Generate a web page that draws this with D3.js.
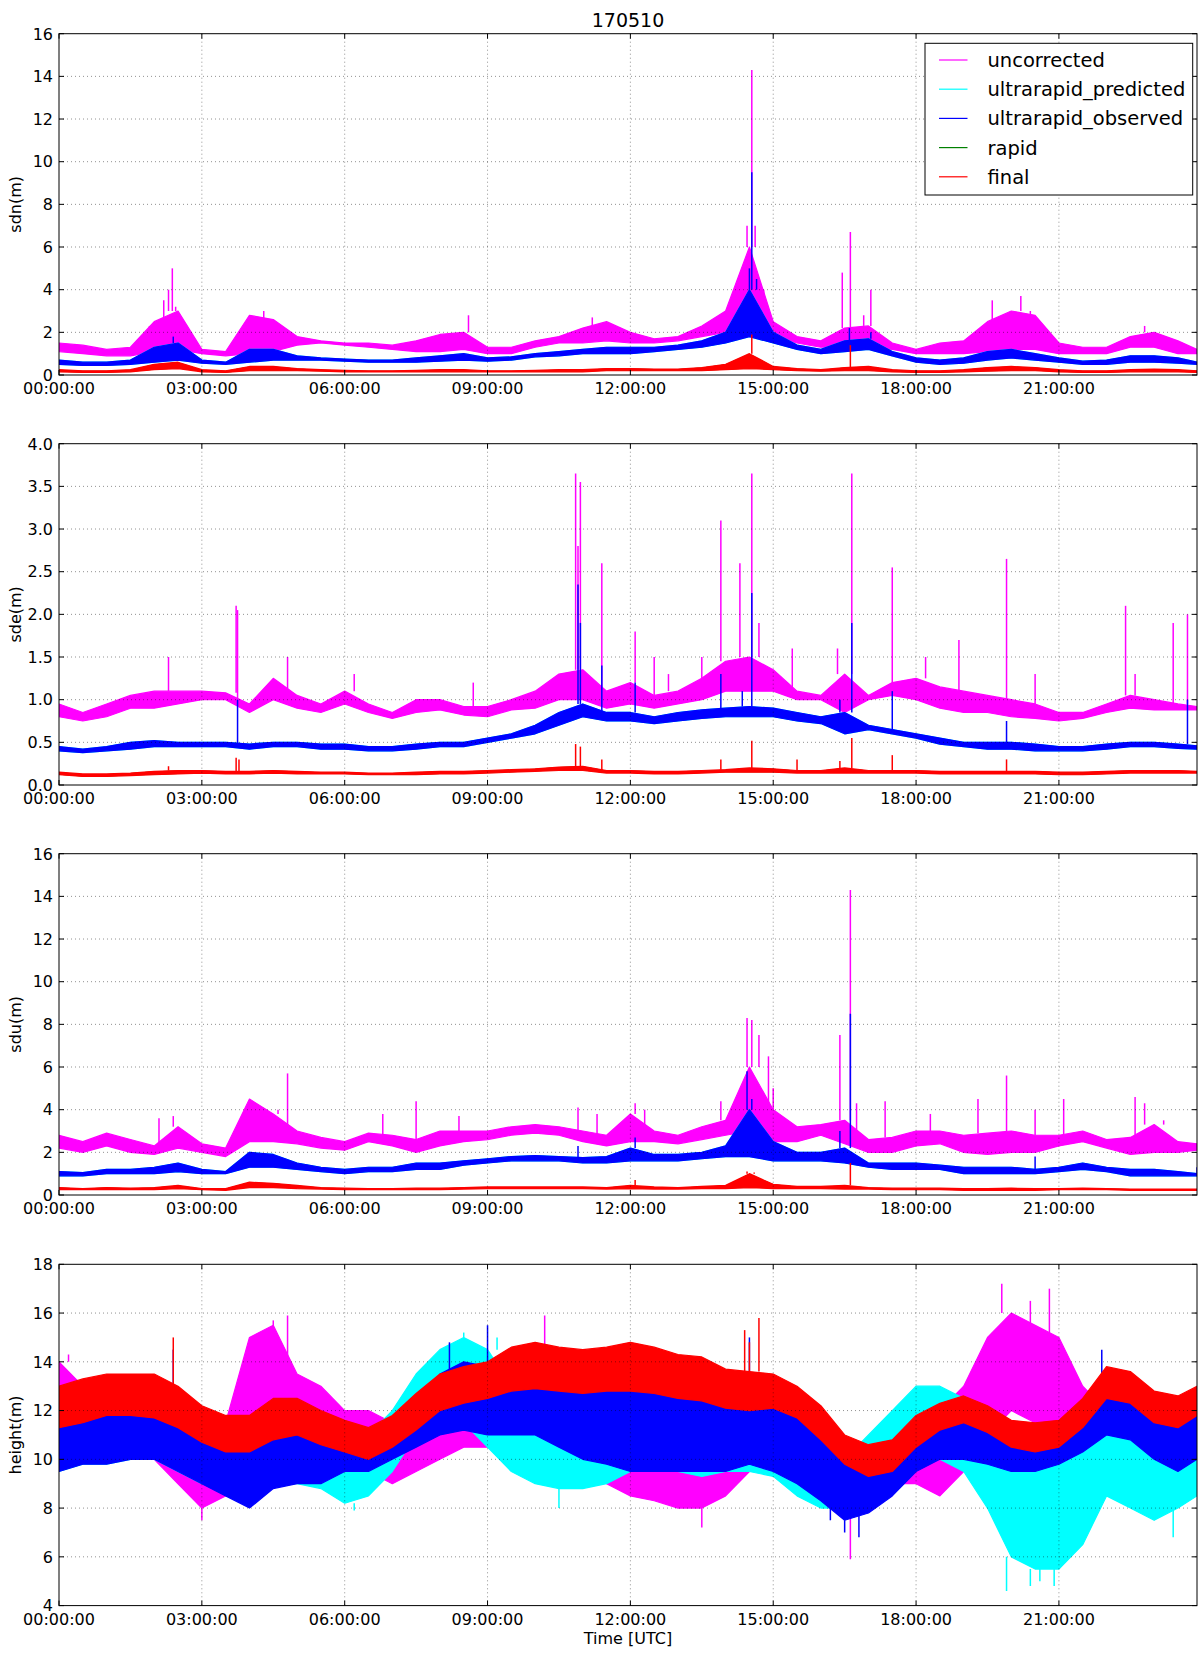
<!DOCTYPE html>
<html><head><meta charset="utf-8">
<script src="https://cdn.jsdelivr.net/npm/d3@7"></script>
<style>body{margin:0;background:#fff}svg{display:block}text{font-family:"DejaVu Sans",sans-serif;fill:#000}</style>
</head><body><svg id="c" width="1203" height="1653"></svg>
<script>
// ---- DATA (hours UTC; lo/hi = envelope of the dense trace) ----
const hours = [0,0.5,1,1.5,2,2.5,3,3.5,4,4.5,5,5.5,6,6.5,7,7.5,8,8.5,9,9.5,10,10.5,11,11.5,12,12.5,13,13.5,14,14.5,15,15.5,16,16.5,17,17.5,18,18.5,19,19.5,20,20.5,21,21.5,22,22.5,23,23.5,23.9];
const xTickHours = [0,3,6,9,12,15,18,21];
const seriesNames = ["uncorrected","ultrarapid_predicted","ultrarapid_observed","rapid","final"];
const seriesColors = ["#ff00ff","#00ffff","#0000ff","#008000","#ff0000"];
const panelLabels = ["sdn(m)","sde(m)","sdu(m)","height(m)"];
const titleText = "170510";
const xLabelText = "Time [UTC]";

// sdn
const sdnUncLo=[1.1,1.0,0.9,0.9,1.1,1.2,1.0,0.9,1.0,1.1,1.4,1.5,1.4,1.3,1.2,1.1,1.1,1.2,1.0,1.0,1.3,1.5,1.5,1.6,1.5,1.5,1.6,1.8,2.0,2.5,1.8,1.5,1.3,1.3,1.3,1.2,1.0,1.0,1.0,1.1,1.2,1.2,1.0,1.0,1.0,1.3,1.3,1.0,1.0];
const sdnUncHi=[1.5,1.4,1.2,1.3,2.5,3.0,1.2,1.1,2.8,2.6,1.8,1.6,1.5,1.5,1.4,1.6,1.9,2.0,1.3,1.3,1.6,1.8,2.2,2.5,2.0,1.7,1.8,2.3,3.0,6.0,2.5,1.8,1.6,2.2,2.3,1.5,1.2,1.5,1.6,2.5,3.0,2.8,1.5,1.3,1.3,1.8,2.0,1.6,1.2];
const sdnUncSpikes=[[1.9,2.3],[2.2,3.5],[2.3,4.0],[2.38,5.0],[2.45,3.2],[4.3,3.0],[8.6,2.8],[11.2,2.7],[13.8,3.0],[14.35,4.5],[14.45,7.0],[14.55,14.3],[14.62,7.0],[14.7,6.0],[14.8,4.0],[16.45,4.8],[16.62,6.7],[16.9,2.8],[17.05,4.0],[19.6,3.5],[20.2,3.7],[20.4,3.0],[22.8,2.3]];
const sdnUrpLo=[0.5,0.45,0.45,0.5,0.6,0.7,0.55,0.5,0.6,0.7,0.7,0.7,0.65,0.6,0.6,0.6,0.65,0.7,0.65,0.7,0.85,0.9,1.0,1.0,1.0,1.1,1.2,1.3,1.5,1.8,1.5,1.2,1.0,1.1,1.2,0.9,0.6,0.5,0.55,0.7,0.8,0.7,0.6,0.5,0.5,0.6,0.6,0.55,0.5];
const sdnUrpHi=[0.7,0.6,0.6,0.7,1.3,1.5,0.7,0.6,1.2,1.2,0.9,0.8,0.75,0.7,0.7,0.8,0.9,1.0,0.8,0.85,1.0,1.1,1.2,1.3,1.3,1.3,1.4,1.6,2.0,4.0,2.0,1.4,1.2,1.6,1.7,1.1,0.8,0.7,0.8,1.1,1.2,1.0,0.8,0.65,0.7,0.9,0.9,0.8,0.6];
const sdnUroLo=[0.5,0.45,0.45,0.5,0.6,0.7,0.55,0.5,0.6,0.7,0.7,0.7,0.65,0.6,0.6,0.6,0.65,0.7,0.65,0.7,0.85,0.9,1.0,1.0,1.0,1.1,1.2,1.3,1.5,1.8,1.5,1.2,1.0,1.1,1.2,0.9,0.6,0.5,0.55,0.7,0.8,0.7,0.6,0.5,0.5,0.6,0.6,0.55,0.5];
const sdnUroHi=[0.7,0.6,0.6,0.7,1.3,1.5,0.7,0.6,1.2,1.2,0.9,0.8,0.75,0.7,0.7,0.8,0.9,1.0,0.8,0.85,1.0,1.1,1.2,1.3,1.3,1.3,1.4,1.6,2.0,4.0,2.0,1.4,1.2,1.6,1.7,1.1,0.8,0.7,0.8,1.1,1.2,1.0,0.8,0.65,0.7,0.9,0.9,0.8,0.6];
const sdnUroSpikes=[[2.4,1.8],[14.4,3.5],[14.5,5.0],[14.55,9.5],[14.65,4.5],[16.6,2.2],[17.05,2.0]];
const sdnFinLo=[0.15,0.12,0.12,0.15,0.25,0.3,0.15,0.12,0.2,0.2,0.2,0.18,0.15,0.15,0.15,0.15,0.15,0.15,0.15,0.15,0.15,0.15,0.15,0.2,0.2,0.2,0.2,0.2,0.25,0.3,0.25,0.2,0.18,0.2,0.2,0.15,0.12,0.12,0.15,0.18,0.2,0.2,0.15,0.12,0.12,0.15,0.15,0.15,0.12];
const sdnFinHi=[0.25,0.2,0.2,0.25,0.5,0.6,0.25,0.2,0.4,0.4,0.3,0.25,0.22,0.2,0.2,0.22,0.25,0.25,0.2,0.2,0.22,0.25,0.25,0.3,0.3,0.28,0.28,0.35,0.5,1.0,0.4,0.3,0.25,0.35,0.4,0.25,0.2,0.2,0.25,0.35,0.4,0.35,0.25,0.2,0.2,0.25,0.28,0.25,0.2];
const sdnFinSpikes=[[14.45,1.0],[14.55,1.9],[16.62,1.4]];

// sde
const sdeUncLo=[0.8,0.75,0.8,0.9,0.9,0.95,1.0,1.0,0.85,1.0,0.9,0.85,0.95,0.85,0.78,0.85,0.88,0.82,0.8,0.88,0.9,1.0,1.0,0.9,0.95,0.9,0.95,1.0,1.1,1.1,1.1,1.0,1.0,0.85,1.0,1.05,1.0,0.9,0.85,0.85,0.8,0.78,0.75,0.78,0.85,0.9,0.88,0.88,0.88];
const sdeUncHi=[0.95,0.85,0.95,1.05,1.1,1.1,1.1,1.08,0.95,1.25,1.05,0.95,1.1,0.95,0.85,1.0,1.0,0.92,0.92,1.0,1.1,1.3,1.35,1.1,1.2,1.05,1.1,1.25,1.45,1.5,1.35,1.1,1.05,1.3,1.05,1.2,1.25,1.15,1.1,1.05,1.0,0.95,0.85,0.85,0.95,1.05,1.0,0.95,0.92];
const sdeUncSpikes=[[2.3,1.5],[3.72,2.1],[3.75,2.05],[4.8,1.5],[6.2,1.3],[8.7,1.2],[10.85,3.65],[10.9,2.8],[10.95,3.55],[11.4,2.6],[12.1,1.8],[12.5,1.5],[12.8,1.3],[13.5,1.5],[13.9,3.1],[14.3,2.6],[14.55,3.65],[14.7,1.9],[15.4,1.6],[16.35,1.6],[16.65,3.65],[17.5,2.55],[18.2,1.5],[18.9,1.7],[19.9,2.65],[20.5,1.3],[22.4,2.1],[22.6,1.3],[23.4,1.9],[23.7,2.0]];
const sdeUrpLo=[0.4,0.38,0.4,0.42,0.45,0.45,0.45,0.45,0.42,0.45,0.45,0.42,0.42,0.4,0.4,0.42,0.45,0.45,0.5,0.55,0.6,0.7,0.8,0.75,0.75,0.72,0.75,0.78,0.8,0.8,0.8,0.75,0.72,0.6,0.65,0.6,0.55,0.48,0.45,0.42,0.42,0.4,0.4,0.4,0.42,0.45,0.45,0.43,0.42];
const sdeUrpHi=[0.45,0.42,0.45,0.5,0.52,0.5,0.5,0.5,0.48,0.5,0.5,0.48,0.48,0.45,0.45,0.48,0.5,0.5,0.55,0.6,0.7,0.85,0.95,0.85,0.85,0.8,0.85,0.88,0.9,0.92,0.9,0.85,0.8,0.85,0.7,0.65,0.6,0.55,0.5,0.5,0.5,0.48,0.45,0.45,0.48,0.5,0.5,0.48,0.46];
const sdeUroLo=[0.4,0.38,0.4,0.42,0.45,0.45,0.45,0.45,0.42,0.45,0.45,0.42,0.42,0.4,0.4,0.42,0.45,0.45,0.5,0.55,0.6,0.7,0.8,0.75,0.75,0.72,0.75,0.78,0.8,0.8,0.8,0.75,0.72,0.6,0.65,0.6,0.55,0.48,0.45,0.42,0.42,0.4,0.4,0.4,0.42,0.45,0.45,0.43,0.42];
const sdeUroHi=[0.45,0.42,0.45,0.5,0.52,0.5,0.5,0.5,0.48,0.5,0.5,0.48,0.48,0.45,0.45,0.48,0.5,0.5,0.55,0.6,0.7,0.85,0.95,0.85,0.85,0.8,0.85,0.88,0.9,0.92,0.9,0.85,0.8,0.85,0.7,0.65,0.6,0.55,0.5,0.5,0.5,0.48,0.45,0.45,0.48,0.5,0.5,0.48,0.46];
const sdeUroSpikes=[[3.75,1.0],[10.9,2.35],[10.95,1.9],[11.4,1.4],[12.1,1.2],[13.9,1.3],[14.35,1.1],[14.55,2.25],[16.4,1.0],[16.65,1.9],[17.5,1.1],[19.9,0.75],[23.7,1.0]];
const sdeFinLo=[0.12,0.1,0.1,0.11,0.12,0.13,0.14,0.13,0.13,0.14,0.13,0.13,0.13,0.12,0.12,0.12,0.13,0.13,0.14,0.15,0.16,0.17,0.17,0.14,0.14,0.13,0.13,0.14,0.15,0.15,0.15,0.14,0.14,0.14,0.14,0.14,0.14,0.13,0.13,0.13,0.13,0.13,0.12,0.12,0.13,0.14,0.14,0.14,0.14];
const sdeFinHi=[0.15,0.13,0.13,0.14,0.16,0.17,0.17,0.16,0.16,0.17,0.16,0.15,0.15,0.14,0.14,0.15,0.16,0.16,0.17,0.18,0.19,0.21,0.22,0.17,0.17,0.16,0.16,0.17,0.18,0.2,0.19,0.17,0.17,0.2,0.17,0.17,0.17,0.16,0.16,0.16,0.16,0.16,0.15,0.15,0.16,0.17,0.17,0.17,0.16];
const sdeFinSpikes=[[2.3,0.22],[3.72,0.32],[3.78,0.3],[10.85,0.48],[10.95,0.45],[11.4,0.3],[13.9,0.3],[14.55,0.52],[15.5,0.3],[16.4,0.28],[16.65,0.55],[17.5,0.35],[19.9,0.3]];

// sdu
const sduUncLo=[2.2,2.0,2.3,2.0,1.9,2.2,2.0,1.8,2.5,2.5,2.4,2.2,2.1,2.5,2.3,2.0,2.3,2.5,2.6,2.8,2.9,2.8,2.5,2.3,2.5,2.5,2.4,2.6,2.8,3.0,2.5,2.5,2.8,2.4,2.0,2.0,2.3,2.4,2.0,1.9,2.0,2.0,2.3,2.5,2.2,1.9,2.0,2.0,2.1];
const sduUncHi=[2.8,2.5,2.9,2.6,2.3,3.2,2.4,2.2,4.5,3.8,3.0,2.7,2.5,2.9,2.8,2.6,3.0,3.0,3.0,3.2,3.3,3.2,3.0,2.8,3.8,3.0,2.8,3.2,3.5,6.0,4.0,3.2,3.3,3.5,2.6,2.7,3.0,3.0,2.8,2.9,3.0,2.8,2.8,3.0,2.6,2.7,3.3,2.5,2.4];
const sduUncSpikes=[[2.1,3.6],[2.4,3.7],[4.6,4.0],[4.8,5.7],[6.8,3.8],[7.5,4.4],[8.4,3.7],[10.9,4.1],[11.3,3.8],[12.1,4.3],[12.3,4.0],[13.9,4.4],[14.45,8.3],[14.55,8.2],[14.7,7.5],[14.9,6.5],[15.0,5.0],[16.4,7.5],[16.62,14.3],[16.75,4.3],[17.35,4.4],[18.3,3.8],[19.3,4.5],[19.9,5.6],[20.5,4.0],[21.1,4.5],[22.6,4.6],[22.8,4.3],[23.2,3.5]];
const sduUrpLo=[0.9,0.9,1.0,1.0,1.0,1.1,1.0,1.0,1.3,1.3,1.2,1.1,1.0,1.1,1.1,1.2,1.2,1.4,1.5,1.6,1.6,1.6,1.5,1.5,1.6,1.6,1.6,1.7,1.8,1.8,1.6,1.6,1.6,1.5,1.3,1.2,1.2,1.2,1.0,1.0,1.0,1.0,1.1,1.2,1.1,0.9,0.9,0.9,0.9];
const sduUrpHi=[1.1,1.05,1.2,1.2,1.3,1.5,1.2,1.1,2.0,1.9,1.5,1.3,1.2,1.3,1.3,1.5,1.5,1.6,1.7,1.8,1.85,1.8,1.75,1.8,2.2,1.9,1.9,2.0,2.3,4.0,2.5,2.0,2.0,2.2,1.5,1.5,1.5,1.4,1.3,1.3,1.3,1.2,1.3,1.5,1.3,1.2,1.2,1.1,1.0];
const sduUroLo=[0.9,0.9,1.0,1.0,1.0,1.1,1.0,1.0,1.3,1.3,1.2,1.1,1.0,1.1,1.1,1.2,1.2,1.4,1.5,1.6,1.6,1.6,1.5,1.5,1.6,1.6,1.6,1.7,1.8,1.8,1.6,1.6,1.6,1.5,1.3,1.2,1.2,1.2,1.0,1.0,1.0,1.0,1.1,1.2,1.1,0.9,0.9,0.9,0.9];
const sduUroHi=[1.1,1.05,1.2,1.2,1.3,1.5,1.2,1.1,2.0,1.9,1.5,1.3,1.2,1.3,1.3,1.5,1.5,1.6,1.7,1.8,1.85,1.8,1.75,1.8,2.2,1.9,1.9,2.0,2.3,4.0,2.5,2.0,2.0,2.2,1.5,1.5,1.5,1.4,1.3,1.3,1.3,1.2,1.3,1.5,1.3,1.2,1.2,1.1,1.0];
const sduUroSpikes=[[10.9,2.3],[12.1,2.7],[14.45,5.8],[14.55,4.5],[14.65,4.0],[16.4,3.0],[16.62,8.5],[20.5,1.8],[23.9,1.3]];
const sduFinLo=[0.25,0.25,0.25,0.25,0.25,0.3,0.25,0.22,0.35,0.35,0.3,0.28,0.25,0.25,0.25,0.25,0.25,0.28,0.3,0.3,0.3,0.3,0.3,0.28,0.3,0.28,0.28,0.3,0.3,0.35,0.3,0.3,0.3,0.28,0.28,0.25,0.25,0.25,0.22,0.22,0.22,0.22,0.25,0.25,0.25,0.22,0.22,0.22,0.22];
const sduFinHi=[0.35,0.3,0.35,0.32,0.35,0.45,0.3,0.3,0.6,0.55,0.45,0.35,0.32,0.3,0.3,0.32,0.32,0.35,0.38,0.38,0.38,0.38,0.38,0.35,0.45,0.38,0.35,0.4,0.45,1.0,0.5,0.4,0.4,0.45,0.35,0.32,0.32,0.32,0.3,0.3,0.32,0.3,0.3,0.32,0.3,0.28,0.28,0.28,0.28];
const sduFinSpikes=[[12.1,0.7],[14.45,1.1],[14.6,1.05],[16.62,1.5]];

// height
const hgtUncLo=[10.0,10.5,10.5,10.5,10.0,9.0,8.0,8.5,10.5,11.0,10.5,10.5,10.0,9.5,9.0,9.5,10.0,10.5,10.5,11.0,10.5,10.0,9.5,9.0,8.5,8.3,8.0,8.0,8.5,9.5,9.5,9.0,8.5,8.0,8.5,9.0,9.0,8.5,9.5,11.0,12.0,11.5,11.0,10.0,9.5,9.5,9.0,9.0,9.0];
const hgtUncHi=[14.0,13.0,13.0,13.0,13.0,12.0,11.0,11.5,15.0,15.5,13.5,13.0,12.0,12.0,11.5,11.5,12.5,13.0,13.5,14.0,14.5,13.5,12.5,12.0,11.5,11.0,11.0,10.5,11.0,12.0,12.0,11.5,10.5,9.5,10.0,10.5,11.5,12.0,13.0,15.0,16.0,15.5,15.0,13.0,12.0,11.0,10.5,11.0,11.5];
const hgtUncSpikes=[[0.2,14.3],[3.0,7.5],[4.5,15.7],[4.8,15.9],[10.2,15.9],[13.5,7.2],[16.62,5.9],[19.8,17.2],[20.4,16.5],[20.8,17.0]];
const hgtUrpLo=[9.5,9.8,9.8,10.0,10.0,9.5,9.0,8.8,8.5,9.0,9.0,8.8,8.2,8.5,9.5,11.0,11.5,11.5,10.5,9.5,9.0,8.8,8.8,9.0,9.5,9.5,9.5,9.3,9.5,9.5,9.3,8.5,8.0,8.0,8.5,9.0,10.0,10.0,9.5,8.0,6.0,5.5,5.5,6.5,8.5,8.0,7.5,8.0,8.5];
const hgtUrpHi=[11.5,11.8,11.8,12.0,12.0,11.5,11.0,10.8,10.5,11.0,11.0,10.8,10.5,11.0,12.0,13.5,14.5,15.0,14.5,13.0,12.5,12.0,12.0,12.0,12.0,12.0,12.0,12.0,12.0,12.0,12.0,11.0,10.5,10.0,11.0,12.0,13.0,13.0,12.5,11.5,10.5,10.0,9.8,10.5,12.0,11.5,10.5,10.5,11.0];
const hgtUrpSpikes=[[6.2,7.9],[8.5,15.2],[9.2,15.0],[10.5,8.0],[19.9,4.6],[20.4,4.8],[20.6,5.0],[20.9,4.8],[23.4,6.8]];
const hgtUroLo=[9.5,9.8,9.8,10.0,10.0,9.5,9.0,8.5,8.0,8.8,9.0,9.0,9.5,9.5,10.0,10.5,11.0,11.2,11.0,11.0,11.0,10.5,10.0,9.8,9.5,9.5,9.5,9.5,9.5,9.8,9.5,9.0,8.3,7.5,7.8,8.5,9.5,10.0,10.0,9.8,9.5,9.5,9.8,10.3,11.0,10.8,10.0,9.5,10.0];
const hgtUroHi=[11.8,12.0,12.2,12.3,12.2,11.8,11.2,10.8,10.8,11.3,11.5,11.2,11.0,10.8,11.3,12.2,13.5,14.0,13.8,13.5,13.3,13.0,12.8,12.8,12.9,12.8,12.6,12.5,12.3,12.3,12.2,11.8,11.0,10.0,9.8,10.5,11.5,12.0,12.3,12.0,11.5,11.3,11.5,12.0,13.0,12.8,12.0,11.8,12.0];
const hgtUroSpikes=[[2.4,14.5],[4.1,8.0],[8.2,14.8],[9.0,15.5],[14.5,15.0],[16.2,7.5],[16.5,7.0],[16.8,6.8],[21.9,14.5]];
const hgtRapLo=[11.6,11.8,12.1,12.1,12.0,11.6,11.0,10.6,10.6,11.1,11.3,10.9,10.6,10.3,10.8,11.5,12.3,12.6,12.8,13.1,13.2,13.1,13.0,13.1,13.1,13.0,12.8,12.7,12.4,12.3,12.4,12.0,11.1,10.1,9.6,9.8,10.8,11.5,11.8,11.4,10.8,10.6,10.8,11.6,12.8,12.6,11.8,11.6,12.1];
const hgtRapHi=[12.7,13.0,13.2,13.2,13.2,12.7,11.9,11.5,11.5,12.2,12.2,11.7,11.3,11.0,11.5,12.4,13.2,13.5,13.7,14.3,14.5,14.3,14.2,14.3,14.5,14.3,14.0,13.9,13.4,13.3,13.2,12.7,11.9,10.7,10.3,10.5,11.5,12.0,12.3,11.9,11.3,11.2,11.3,12.2,13.5,13.3,12.5,12.3,12.7];
const hgtFinLo=[11.3,11.5,11.8,11.8,11.7,11.3,10.7,10.3,10.3,10.8,11.0,10.6,10.3,10.0,10.5,11.2,12.0,12.3,12.5,12.8,12.9,12.8,12.7,12.8,12.8,12.7,12.5,12.4,12.1,12.0,12.1,11.7,10.8,9.8,9.3,9.5,10.5,11.2,11.5,11.1,10.5,10.3,10.5,11.3,12.5,12.3,11.5,11.3,11.8];
const hgtFinHi=[13.0,13.3,13.5,13.5,13.5,13.0,12.2,11.8,11.8,12.5,12.5,12.0,11.6,11.3,11.8,12.7,13.5,13.8,14.0,14.6,14.8,14.6,14.5,14.6,14.8,14.6,14.3,14.2,13.7,13.6,13.5,13.0,12.2,11.0,10.6,10.8,11.8,12.3,12.6,12.2,11.6,11.5,11.6,12.5,13.8,13.6,12.8,12.6,13.0];
const hgtFinSpikes=[[2.4,15.0],[14.4,15.3],[14.5,14.8],[14.7,15.8]];

// ---- LAYOUT ----
const svg = d3.select("#c");
const L = 59, R = 1197, PH = 341.3;
const panelTops = [33.7, 443.7, 853.7, 1264.3];
const x = d3.scaleLinear().domain([0, 23.9]).range([L, R]);
const hhmmss = h => String(h).padStart(2,"0") + ":00:00";

const panels = [
  {label: panelLabels[0], domain:[0,16], ticks:d3.range(0,17,2), fmt:d3.format("d"),
   series:[[sdnUncLo,sdnUncHi,sdnUncSpikes],[sdnUrpLo,sdnUrpHi,[]],[sdnUroLo,sdnUroHi,sdnUroSpikes],[sdnFinLo,sdnFinHi,[]],[sdnFinLo,sdnFinHi,sdnFinSpikes]]},
  {label: panelLabels[1], domain:[0,4], ticks:d3.range(0,4.01,0.5), fmt:d3.format(".1f"),
   series:[[sdeUncLo,sdeUncHi,sdeUncSpikes],[sdeUrpLo,sdeUrpHi,[]],[sdeUroLo,sdeUroHi,sdeUroSpikes],[sdeFinLo,sdeFinHi,[]],[sdeFinLo,sdeFinHi,sdeFinSpikes]]},
  {label: panelLabels[2], domain:[0,16], ticks:d3.range(0,17,2), fmt:d3.format("d"),
   series:[[sduUncLo,sduUncHi,sduUncSpikes],[sduUrpLo,sduUrpHi,[]],[sduUroLo,sduUroHi,sduUroSpikes],[sduFinLo,sduFinHi,[]],[sduFinLo,sduFinHi,sduFinSpikes]]},
  {label: panelLabels[3], domain:[4,18], ticks:d3.range(4,19,2), fmt:d3.format("d"),
   series:[[hgtUncLo,hgtUncHi,hgtUncSpikes],[hgtUrpLo,hgtUrpHi,hgtUrpSpikes],[hgtUroLo,hgtUroHi,hgtUroSpikes],[hgtRapLo,hgtRapHi,[]],[hgtFinLo,hgtFinHi,hgtFinSpikes]]}
];

svg.append("text").attr("x", (L+R)/2).attr("y", 26.5).attr("text-anchor","middle")
   .style("font-size","19px").text(titleText);

panels.forEach((p, pi) => {
  const top = panelTops[pi], bot = top + PH;
  const y = d3.scaleLinear().domain(p.domain).range([bot, top]);
  const g = svg.append("g");
  const cid = "clip" + pi;
  g.append("clipPath").attr("id", cid).append("rect")
    .attr("x", L).attr("y", top).attr("width", R-L).attr("height", PH);
  const dg = g.append("g").attr("clip-path", `url(#${cid})`);

  p.series.forEach(([lo, hi, spikes], si) => {
    const col = seriesColors[si];
    const data = hours.map((t,i) => ({t, lo: lo[i], hi: hi[i]}));
    dg.append("path").datum(data)
      .attr("d", d3.area().x(d => x(d.t)).y0(d => y(d.lo)).y1(d => y(d.hi)))
      .attr("fill", col).attr("stroke", col).attr("stroke-width", si === 3 ? 0 : 1.2).attr("stroke-linejoin","round");
    spikes.forEach(([t, v]) => {
      const i = Math.min(hours.length-1, Math.round(t*2));
      const base = v >= hi[i] ? hi[i] : lo[i];
      dg.append("line").attr("x1", x(t)).attr("x2", x(t))
        .attr("y1", y(base)).attr("y2", y(v))
        .attr("stroke", col).attr("stroke-width", 1.5);
    });
  });

  // grid (drawn above lines, classic style)
  const gg = g.append("g").attr("stroke", "#000").attr("stroke-opacity", 0.55)
    .attr("stroke-width", 0.8).attr("stroke-dasharray", "1,3");
  xTickHours.forEach(h => { if (h > 0) gg.append("line").attr("x1", x(h)).attr("x2", x(h)).attr("y1", top).attr("y2", bot); });
  p.ticks.forEach(v => { const yy = y(v); if (yy > top+0.5 && yy < bot-0.5) gg.append("line").attr("x1", L).attr("x2", R).attr("y1", yy).attr("y2", yy); });

  // ticks inward on all sides
  const tk = g.append("g").attr("stroke", "#000").attr("stroke-width", 1);
  xTickHours.forEach(h => {
    tk.append("line").attr("x1", x(h)).attr("x2", x(h)).attr("y1", bot).attr("y2", bot-5);
    tk.append("line").attr("x1", x(h)).attr("x2", x(h)).attr("y1", top).attr("y2", top+5);
  });
  p.ticks.forEach(v => {
    tk.append("line").attr("x1", L).attr("x2", L+5).attr("y1", y(v)).attr("y2", y(v));
    tk.append("line").attr("x1", R).attr("x2", R-5).attr("y1", y(v)).attr("y2", y(v));
  });

  // frame
  g.append("rect").attr("x", L).attr("y", top).attr("width", R-L).attr("height", PH)
    .attr("fill", "none").attr("stroke", "#000").attr("stroke-width", 1);

  // tick labels
  xTickHours.forEach(h => {
    g.append("text").attr("x", x(h)).attr("y", bot + 19).attr("text-anchor", "middle")
      .style("font-size", "16px").text(hhmmss(h));
  });
  p.ticks.forEach(v => {
    g.append("text").attr("x", L - 6).attr("y", y(v) + 5.8).attr("text-anchor", "end")
      .style("font-size", "16px").text(p.fmt(v));
  });
  g.append("text").attr("transform", `translate(21,${(top+bot)/2}) rotate(-90)`)
    .attr("text-anchor", "middle").style("font-size", "16px").text(p.label);
});

svg.append("text").attr("x", (L+R)/2).attr("y", 1643.7).attr("text-anchor", "middle")
  .style("font-size", "16px").text(xLabelText);

// legend
const lg = svg.append("g");
lg.append("rect").attr("x", 925).attr("y", 43.3).attr("width", 267.7).attr("height", 151.7)
  .attr("fill", "#fff").attr("stroke", "#000").attr("stroke-width", 1);
seriesNames.forEach((n, i) => {
  const yy = 60 + i * 29.2;
  lg.append("line").attr("x1", 939).attr("x2", 967.5).attr("y1", yy).attr("y2", yy)
    .attr("stroke", seriesColors[i]).attr("stroke-width", 1.2);
  lg.append("text").attr("x", 987.5).attr("y", yy + 7).style("font-size", "19.5px").text(n);
});
</script></body></html>
